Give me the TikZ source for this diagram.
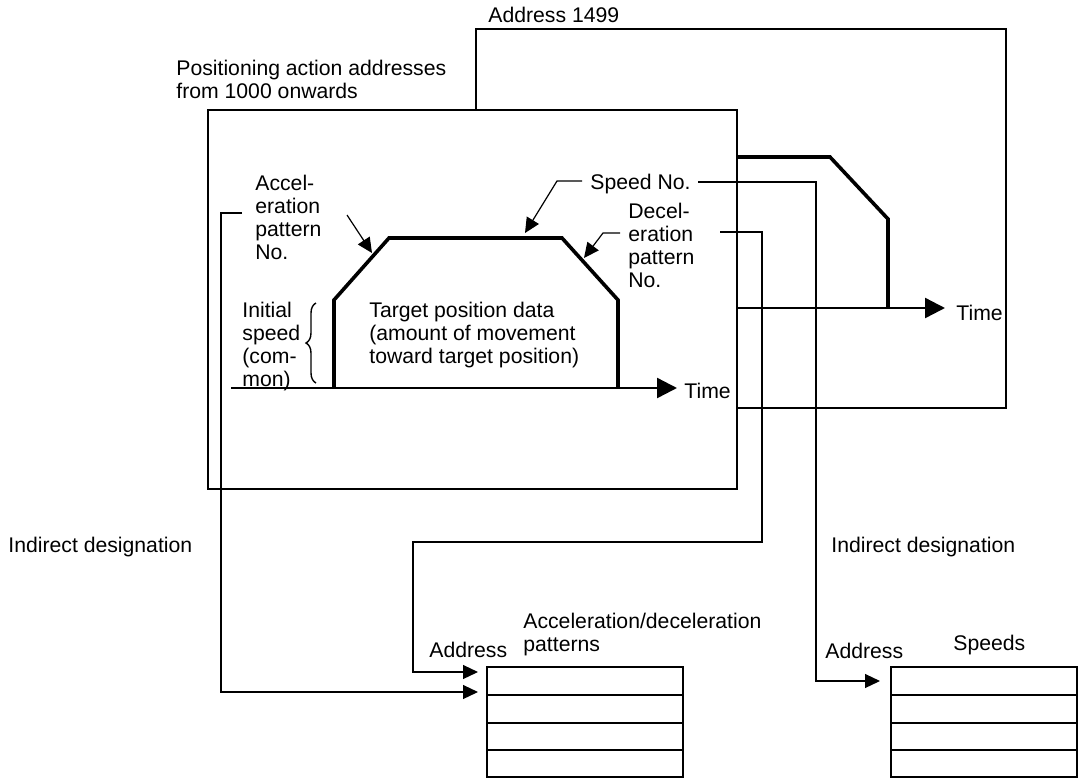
\documentclass[tikz,border=0pt]{standalone}
\usepackage{fontspec}
\setmainfont{Liberation Sans}
\usetikzlibrary{arrows.meta,calc,decorations.pathreplacing}

\begin{document}
\begin{tikzpicture}[x=0.5pt,y=-0.5pt,
    lbl/.style={anchor=north west,inner sep=0pt,align=left,font=\fontsize{10.6}{11.4}\selectfont},
    boxline/.style={line width=1.4pt},
    profile/.style={line width=1.8pt,line join=miter},
    timeaxis/.style={line width=1.2pt,-{Triangle[length=10pt,width=10pt]}},
    pointer/.style={line width=0.6pt,-{Triangle[length=7.5pt,width=7pt]}},
    rowline/.style={line width=0.8pt}]
  \useasboundingbox (0,0) rectangle (1078,778);

  \draw[boxline] (476,29) rectangle (1006,408);
  \draw[profile] (700,157) -- (830,157) -- (888,219) -- (888,308);
  \draw[timeaxis] (700,308) -- (945,308);
  \node[lbl] (timeback) at (956,305) {Time};
  \node[lbl] (lastaddr) at (488,7) {Address 1499};

  \draw[boxline,fill=white] (208,110) rectangle (737,489);
  \draw[timeaxis] (231,388) -- (677,388);
  \draw[profile] (334,388) -- (334,300) -- (389,238) -- (562,238) -- (618,300) -- (618,388);
  \node[lbl] (timefront) at (684,383) {Time};
  \node[lbl] (firstaddr) at (176,60) {Positioning action addresses\\from 1000 onwards};

  \node[lbl] (accel) at (255,175) {Accel-\\eration\\pattern\\No.};
  \node[lbl] (decel) at (628,203) {Decel-\\eration\\pattern\\No.};
  \node[lbl] (speedno) at (590,174) {Speed No.};
  \node[lbl] (initial) at (242,302) {Initial\\speed\\(com-\\mon)};
  \node[lbl] (target) at (369,302) {Target position data\\(amount of movement\\toward target position)};
  \draw[decorate,decoration={brace,amplitude=5pt},line width=0.7pt] (316,383) -- (316,303);

  \draw[pointer] (347,215) -- (372,253);
  \draw[pointer] (582,181) -- (557,181) -- (525,233);
  \draw[pointer] (620,233) -- (603,233) -- (584,258);

  \node[lbl] (indleft) at (8,537) {Indirect designation};
  \node[lbl] (indright) at (831,537) {Indirect designation};

  \coordinate (acctab) at (487,667);
  \coordinate (spdtab) at (891,667);
  \draw[boxline] (acctab) rectangle ++(196,110);
  \draw[boxline] (spdtab) rectangle ++(186,110);
  \foreach \r in {28,56,83} {
    \draw[rowline] ($(acctab)+(0,\r)$) -- ++(196,0);
    \draw[rowline] ($(spdtab)+(0,\r)$) -- ++(186,0);
  }
  \node[lbl] (accaddr) at (429,642) {Address};
  \node[lbl] (acctitle) at (523,613) {Acceleration/deceleration\\patterns};
  \node[lbl] (spdaddr) at (825,643) {Address};
  \node[lbl] (spdtitle) at (953,635) {Speeds};

  \coordinate (accfrom) at (242,213);
  \coordinate (decfrom) at (720,232);
  \coordinate (spdfrom) at (698,182);
  \coordinate (accin) at (478,692);
  \coordinate (decin) at (478,672);
  \coordinate (spdin) at (880,681);
  \draw[pointer] (accfrom) -- (221,213) |- (accin);
  \draw[pointer] (decfrom) -- (762,232) -- (762,542) -| (413,672) -- (decin);
  \draw[pointer] (spdfrom) -- (816,182) |- (spdin);
\end{tikzpicture}
\end{document}
